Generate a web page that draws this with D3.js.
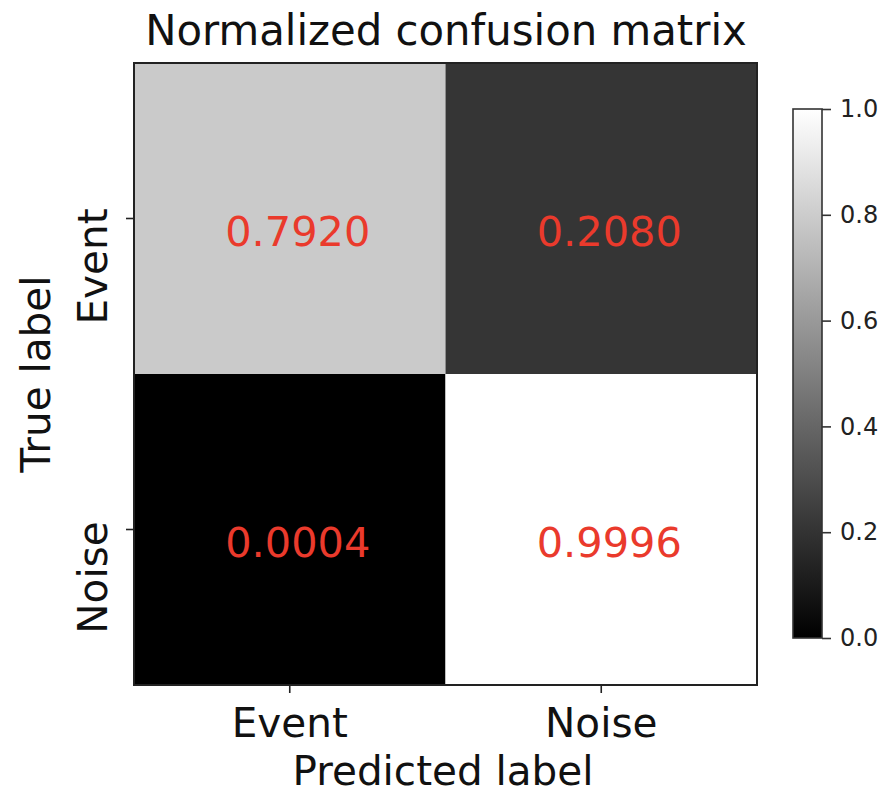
<!DOCTYPE html>
<html>
<head>
<meta charset="utf-8">
<script src="https://cdn.jsdelivr.net/npm/d3@7/dist/d3.min.js"></script>
<style>
  html, body { margin: 0; padding: 0; background: #fff; }
  svg { display: block; font-family: "DejaVu Sans", sans-serif; }
</style>
</head>
<body>
<svg id="chart" width="888" height="795"></svg>
<script>
// Class labels and normalized confusion matrix rows (true label by predicted label)
const classes = ["Event", "Noise"];
const rowEvent = [0.7920, 0.2080];
const rowNoise = [0.0004, 0.9996];
const matrix = [rowEvent, rowNoise];
const colorbarTicks = [0.0, 0.2, 0.4, 0.6, 0.8, 1.0];

const svg = d3.select("#chart");

// Heatmap area
const plotLeft = 134, plotRight = 757, plotTop = 63, plotBottom = 685;

const x = d3.scaleBand().domain(classes).range([plotLeft, plotRight]);
const y = d3.scaleBand().domain(classes).range([plotTop, plotBottom]);
const color = d3.scaleLinear().domain([0, 1]).range(["#000000", "#ffffff"]).interpolate(d3.interpolateRgb);

const cells = [];
matrix.forEach((row, i) => row.forEach((v, j) => cells.push({ t: classes[i], p: classes[j], v })));

svg.append("g").selectAll("rect")
  .data(cells)
  .join("rect")
  .attr("x", d => x(d.p))
  .attr("y", d => y(d.t))
  .attr("width", x.bandwidth())
  .attr("height", y.bandwidth())
  .attr("fill", d => color(d.v));

// Value annotations
svg.append("g").selectAll("text")
  .data(cells)
  .join("text")
  .attr("x", d => x(d.p) + x.bandwidth() / 2 + 8)
  .attr("y", d => y(d.t) + y.bandwidth() / 2 + 27)
  .attr("text-anchor", "middle")
  .attr("font-size", 41.5)
  .attr("fill", "#ea3a2c")
  .text(d => d.v.toFixed(4));

// Frame
svg.append("rect")
  .attr("x", plotLeft).attr("y", plotTop)
  .attr("width", plotRight - plotLeft).attr("height", plotBottom - plotTop)
  .attr("fill", "none").attr("stroke", "#222").attr("stroke-width", 2);

// Axes
const xAxis = svg.append("g")
  .attr("transform", `translate(0,${plotBottom})`)
  .call(d3.axisBottom(x).tickSize(8).tickPadding(6));
xAxis.select(".domain").remove();
xAxis.selectAll(".tick line").attr("stroke", "#222").attr("stroke-width", 1.6);
xAxis.selectAll(".tick text")
  .attr("font-size", 40.5).attr("fill", "#111")
  .attr("font-family", "DejaVu Sans, sans-serif")
  .attr("dy", null).attr("y", 52);

const yAxis = svg.append("g")
  .attr("transform", `translate(${plotLeft},0)`)
  .call(d3.axisLeft(y).tickSize(8));
yAxis.select(".domain").remove();
yAxis.selectAll(".tick line").attr("stroke", "#222").attr("stroke-width", 1.6);
yAxis.selectAll(".tick text")
  .attr("font-size", 40.5).attr("fill", "#111")
  .attr("font-family", "DejaVu Sans, sans-serif")
  .attr("x", null).attr("dy", null)
  .attr("text-anchor", "middle")
  .attr("transform", "translate(-27,48) rotate(-90)");

// Title and axis labels
svg.append("text")
  .attr("x", 446).attr("y", 45)
  .attr("text-anchor", "middle")
  .attr("font-size", 41.8).attr("fill", "#111")
  .text("Normalized confusion matrix");

svg.append("text")
  .attr("x", 443).attr("y", 785)
  .attr("text-anchor", "middle")
  .attr("font-size", 40.5).attr("fill", "#111")
  .text("Predicted label");

svg.append("text")
  .attr("transform", `translate(50,${(plotTop + plotBottom) / 2}) rotate(-90)`)
  .attr("text-anchor", "middle")
  .attr("font-size", 40.5).attr("fill", "#111")
  .text("True label");

// Colorbar
const cbX = 793, cbW = 29, cbTop = 109, cbBottom = 638;
const cbScale = d3.scaleLinear().domain([0, 1]).range([cbBottom, cbTop]);

const grad = svg.append("defs").append("linearGradient")
  .attr("id", "cbGrad")
  .attr("x1", 0).attr("y1", 1).attr("x2", 0).attr("y2", 0);
d3.range(0, 1.0001, 0.1).forEach(t => {
  grad.append("stop").attr("offset", t).attr("stop-color", color(t));
});

svg.append("rect")
  .attr("x", cbX).attr("y", cbTop)
  .attr("width", cbW).attr("height", cbBottom - cbTop)
  .attr("fill", "url(#cbGrad)")
  .attr("stroke", "#333").attr("stroke-width", 1.6);

const cbAxis = svg.append("g")
  .attr("transform", `translate(${cbX + cbW},0)`)
  .call(d3.axisRight(cbScale).tickValues(colorbarTicks).tickFormat(d3.format(".1f")).tickSize(9).tickPadding(9));
cbAxis.select(".domain").remove();
cbAxis.selectAll(".tick line").attr("stroke", "#333").attr("stroke-width", 1.6);
cbAxis.selectAll(".tick text")
  .attr("font-size", 24).attr("fill", "#222")
  .attr("font-family", "DejaVu Sans, sans-serif");
</script>
</body>
</html>
